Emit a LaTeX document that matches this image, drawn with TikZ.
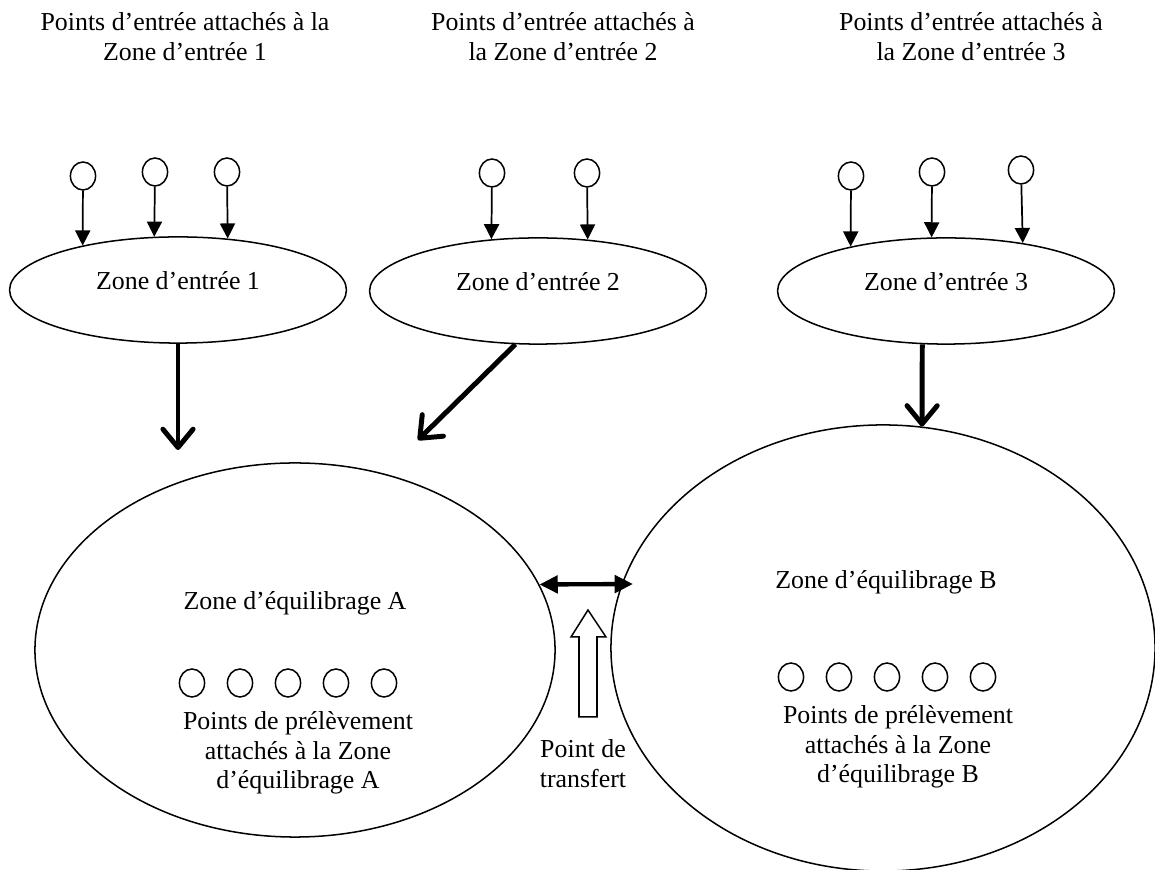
\documentclass[tikz,border=0pt]{standalone}
\usepackage{fontspec}
\setmainfont{Liberation Serif}
\usepackage{tikz}
\usetikzlibrary{shapes.geometric, arrows.meta, positioning, calc}

\begin{document}
\begin{tikzpicture}[x=0.0163cm, y=-0.0163cm,
  every node/.style={font=\fontsize{12}{13.8}\selectfont},
  txt/.style={align=center, inner sep=0pt},
  zone/.style={draw, ellipse, line width=0.7pt, inner sep=0pt,
               minimum width=5.49cm, minimum height=1.73cm},
  bigzone/.style={draw, ellipse, line width=0.7pt, inner sep=0pt},
  spot/.style={draw, ellipse, line width=0.7pt, inner sep=0pt,
               minimum width=0.41cm, minimum height=0.456cm},
  feed/.style={-{Triangle[length=7pt, width=7pt]}, line width=0.8pt},
  flow/.style={-{Straight Barb[length=8.5pt, width=14pt, round]}, line width=2.3pt},
  swap/.style={{Triangle[length=8.5pt, width=8pt]}-{Triangle[length=8.5pt, width=8pt]}, line width=2pt},
]
\useasboundingbox (0,0) rectangle (1155,870);

% Headings
\node[txt] (lab1) at (185,37) {Points d’entrée attachés à la\\Zone d’entrée 1};
\node[txt] (lab2) at (563,37) {Points d’entrée attachés à\\la Zone d’entrée 2};
\node[txt] (lab3) at (971,37) {Points d’entrée attachés à\\la Zone d’entrée 3};

% Entry zones
\node[zone, label={[txt, yshift=0.16cm]center:Zone d’entrée 1}] (e1) at (178,290) {};
\node[zone, label={[txt, yshift=0.16cm]center:Zone d’entrée 2}] (e2) at (538,291) {};
\node[zone, label={[txt, yshift=0.16cm]center:Zone d’entrée 3}] (e3) at (946,291) {};

% Entry points
\node[spot] (p11) at (83,176) {};
\node[spot] (p12) at (155,172) {};
\node[spot] (p13) at (227,172) {};
\node[spot] (p21) at (492,173) {};
\node[spot] (p22) at (587,173) {};
\node[spot] (p31) at (851,176) {};
\node[spot] (p32) at (932,172) {};
\node[spot] (p33) at (1021,170) {};

\draw[feed] (p11) -- (e1.155);
\draw[feed] (p12) -- (e1.114);
\draw[feed] (p13) -- (e1.46);
\draw[feed] (p21) -- (e2.132);
\draw[feed] (p22) -- (e2.46);
\draw[feed] (p31) -- (e3.155);
\draw[feed] (p32) -- (e3.105);
\draw[feed] (p33) -- (e3.32);

% Balancing zones
\node[bigzone, minimum width=8.476cm, minimum height=6.096cm] (zA) at (295,650) {};
\node[bigzone, minimum width=8.867cm, minimum height=7.27cm] (zB) at (883,648) {};

\node[txt] (tA) at (295,603) {Zone d’équilibrage A};
\node[txt] (tB) at (886,582) {Zone d’équilibrage B};

% Withdrawal points
\foreach \i/\x in {1/192, 2/240, 3/288, 4/336, 5/384}
  \node[spot] (a\i) at (\x,683) {};
\foreach \i/\x in {1/791, 2/839, 3/887, 4/935, 5/983}
  \node[spot] (b\i) at (\x,677) {};

\node[txt] (cA) at (298,753) {Points de prélèvement\\attachés à la Zone\\d’équilibrage A};
\node[txt] (cB) at (898,747) {Points de prélèvement\\attachés à la Zone\\d’équilibrage B};

% Flows into the balancing zones
\coordinate (t1) at (178,450);
\coordinate (t2) at (418,440);
\draw[flow] (e1.south) -- (t1);
\draw[flow] (e2.247) -- (t2);
\draw[flow] (e3.246) -- (zB.80);

% Transfer point
\coordinate (sw) at (633,584);
\draw[swap] (zA.15) -- (sw);
\draw[line width=0.7pt, fill=white] (579,717) -- (579,637) -- (571,637) -- (588,610)
  -- (606,637) -- (597,637) -- (597,717) -- cycle;
\node[txt] (tp) at (583,764) {Point de\\transfert};
\end{tikzpicture}
\end{document}
